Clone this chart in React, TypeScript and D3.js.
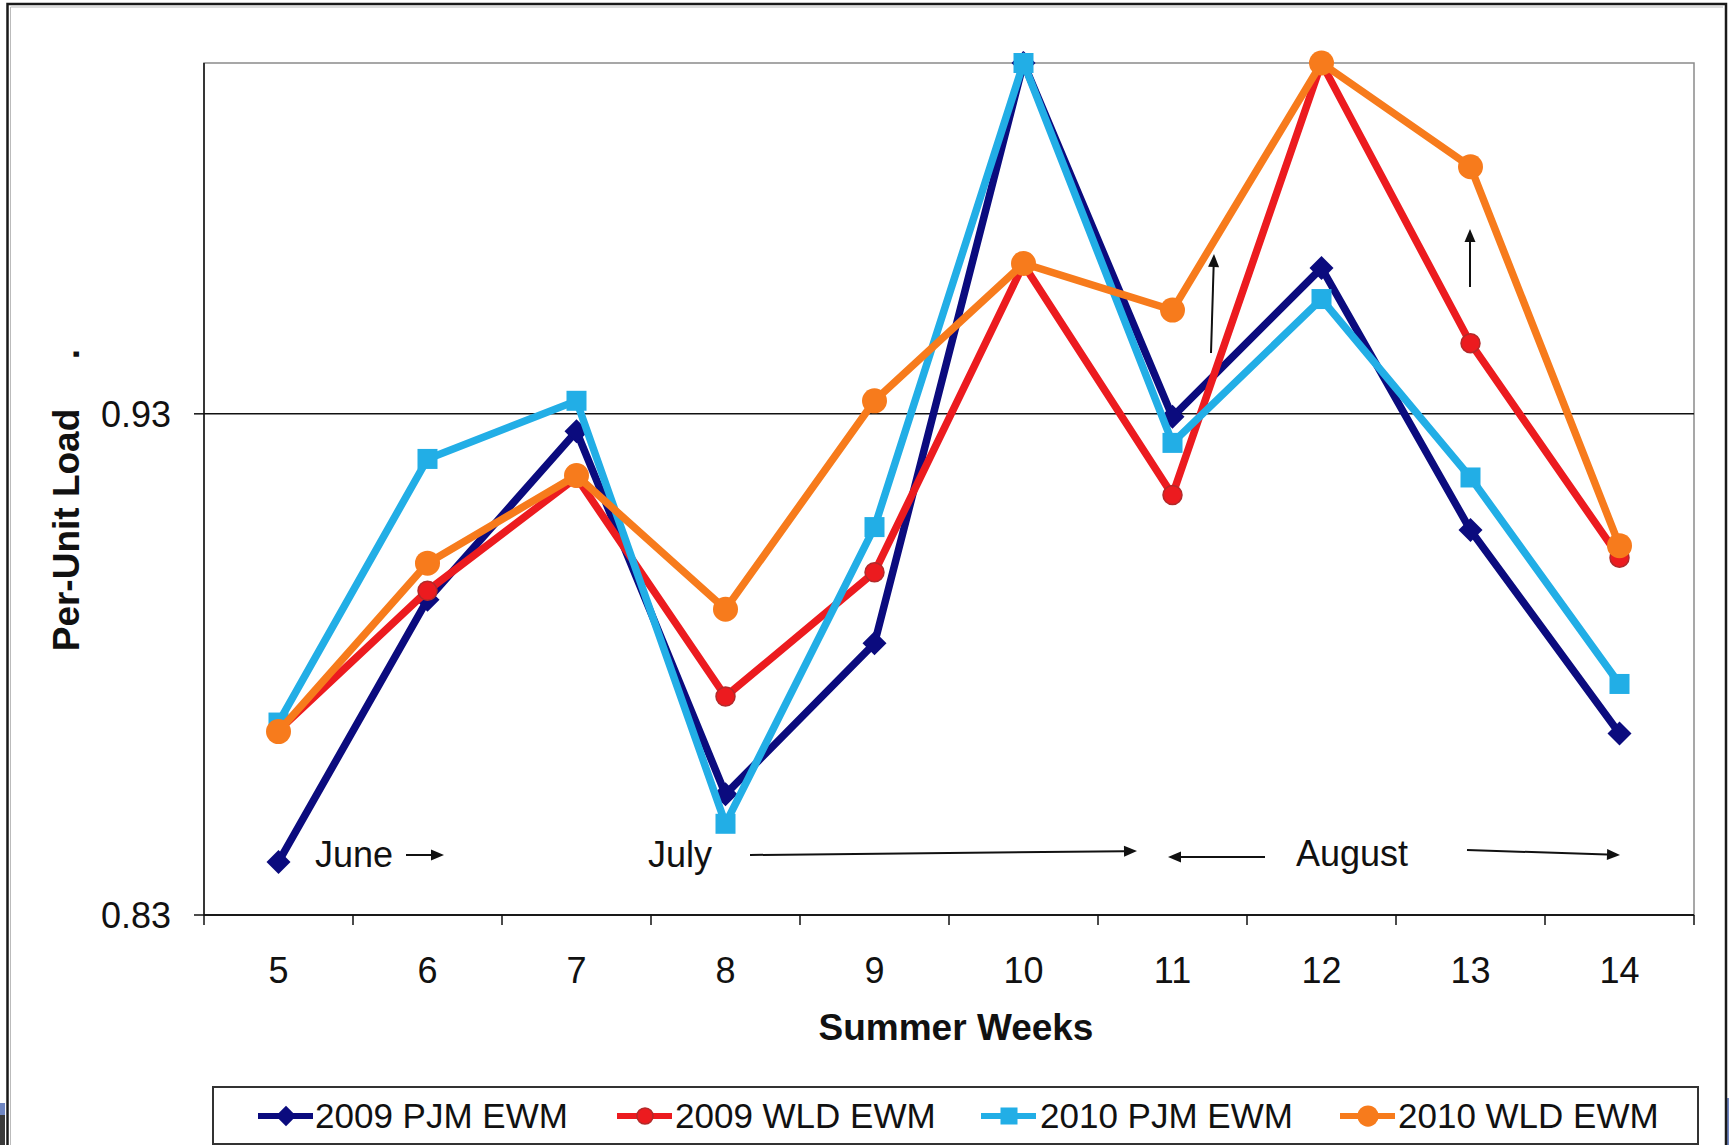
import React from "react";
import * as d3 from "d3";

const weeks = ["5", "6", "7", "8", "9", "10", "11", "12", "13", "14"];
const pjm2009 = [0.8406, 0.8929, 0.9265, 0.8541, 0.8842, 1.0, 0.9294, 0.9591, 0.9068, 0.8662];
const wld2009 = [0.8668, 0.8947, 0.9173, 0.8736, 0.8984, 0.9598, 0.9138, 1.0, 0.9441, 0.9013];
const pjm2010 = [0.8684, 0.921, 0.9326, 0.8482, 0.9074, 1.0, 0.9242, 0.9529, 0.9173, 0.8761];
const wld2010 = [0.8666, 0.9002, 0.9177, 0.891, 0.9326, 0.96, 0.9507, 1.0, 0.9793, 0.9037];
const yTicks = [0.83, 0.93];
const seriesNames = ["2009 PJM EWM", "2009 WLD EWM", "2010 PJM EWM", "2010 WLD EWM"];

const W = 1729;
const H = 1145;
const FONT = "'Liberation Sans', Arial, Helvetica, sans-serif";

const series = [
  { name: seriesNames[0], values: pjm2009, color: "#0b0b7e", marker: "diamond" },
  { name: seriesNames[1], values: wld2009, color: "#ec1b1f", marker: "smallCircle" },
  { name: seriesNames[2], values: pjm2010, color: "#22aee6", marker: "square" },
  { name: seriesNames[3], values: wld2010, color: "#f77b1c", marker: "circle" },
];

function Marker({ type, cx, cy, color, scale = 1 }: { type: string; cx: number; cy: number; color: string; scale?: number }) {
  if (type === "diamond") {
    const r = 12 * scale;
    return <path d={`M${cx},${cy - r}L${cx + r},${cy}L${cx},${cy + r}L${cx - r},${cy}Z`} fill={color} />;
  }
  if (type === "square") {
    const s = 20 * scale;
    return <rect x={cx - s / 2} y={cy - s / 2} width={s} height={s} fill={color} />;
  }
  if (type === "smallCircle") {
    return <circle cx={cx} cy={cy} r={9.5 * scale} fill={color} stroke="#b22a2a" strokeWidth={1.5} />;
  }
  return <circle cx={cx} cy={cy} r={12.5 * scale} fill={color} />;
}

function Arrow({ x1, y1, x2, y2 }: { x1: number; y1: number; x2: number; y2: number }) {
  const ang = Math.atan2(y2 - y1, x2 - x1);
  const len = 13;
  const hw = 5.5;
  const bx = x2 - len * Math.cos(ang);
  const by = y2 - len * Math.sin(ang);
  const px = -Math.sin(ang) * hw;
  const py = Math.cos(ang) * hw;
  return (
    <g>
      <line x1={x1} y1={y1} x2={bx} y2={by} stroke="#111" strokeWidth={2} />
      <path d={`M${x2},${y2}L${bx + px},${by + py}L${bx - px},${by - py}Z`} fill="#111" />
    </g>
  );
}

export default function App() {
  const left = 204;
  const right = 1694;
  const top = 63;
  const bottom = 915;

  const x = d3.scaleBand<string>().domain(weeks).range([left, right]);
  const cx = (w: string) => (x(w) as number) + x.bandwidth() / 2;
  const y = d3.scaleLinear().domain([0.83, 1.0]).range([bottom, top]);

  const line = d3
    .line<number>()
    .x((_, i) => cx(weeks[i]))
    .y((d) => y(d));

  const tickEdges = weeks.map((w) => x(w) as number).concat([right]);

  const legendItems = [
    { lx: 258, tx: 315 },
    { lx: 617, tx: 675 },
    { lx: 981, tx: 1040 },
    { lx: 1340, tx: 1398 },
  ];

  return (
    <svg
      width={W}
      height={H}
      viewBox={`0 0 ${W} ${H}`}
      style={{ position: "absolute", left: 0, top: 0, display: "block", background: "#fff" }}
      fontFamily={FONT}
    >
      <rect x={0} y={0} width={W} height={H} fill="#fff" />
      {/* slide artifacts */}
      <rect x={0} y={1103} width={5} height={12} fill="#6f86c2" />
      <rect x={0} y={1115} width={5} height={30} fill="#3a3a3a" />
      <rect x={1727} y={1098} width={2} height={47} fill="#6f86c2" />
      {/* outer frame */}
      <path d={`M7.5,${H}L7.5,4L1726,4L1726,${H}`} fill="none" stroke="#1a1a1a" strokeWidth={2.5} />
      <path d={`M10.5,${H}L10.5,7L1723,7`} fill="none" stroke="#bbb" strokeWidth={1} />

      {/* plot area border */}
      <rect x={left} y={top} width={right - left} height={bottom - top} fill="none" stroke="#8a8a8a" strokeWidth={1.5} />

      {/* gridlines */}
      {yTicks.map((t) => (
        <line key={`g${t}`} x1={left} x2={right} y1={y(t)} y2={y(t)} stroke="#111" strokeWidth={1.5} />
      ))}

      {/* axes */}
      <line x1={left} x2={left} y1={top} y2={bottom} stroke="#111" strokeWidth={1.5} />
      <line x1={left} x2={right} y1={bottom} y2={bottom} stroke="#111" strokeWidth={1.5} />
      {yTicks.map((t) => (
        <g key={`yt${t}`}>
          <line x1={left - 10} x2={left} y1={y(t)} y2={y(t)} stroke="#111" strokeWidth={1.5} />
          <text x={171} y={y(t) + 13} textAnchor="end" fontSize={36} fill="#111">
            {t.toFixed(2)}
          </text>
        </g>
      ))}
      {tickEdges.map((e, i) => (
        <line key={`xt${i}`} x1={e} x2={e} y1={bottom} y2={bottom + 10} stroke="#111" strokeWidth={1.5} />
      ))}
      {weeks.map((w) => (
        <text key={`xl${w}`} x={cx(w)} y={983} textAnchor="middle" fontSize={36} fill="#111">
          {w}
        </text>
      ))}

      {/* axis titles */}
      <text x={956} y={1040} textAnchor="middle" fontSize={37} fontWeight="bold" fill="#111">
        Summer Weeks
      </text>
      <text transform="translate(79,530) rotate(-90)" textAnchor="middle" fontSize={37} fontWeight="bold" fill="#111">
        Per-Unit Load
      </text>
      <text transform="translate(79,354) rotate(-90)" textAnchor="middle" fontSize={37} fontWeight="bold" fill="#111">
        .
      </text>

      {/* annotations */}
      <text x={315} y={867} fontSize={36} fill="#111">June</text>
      <Arrow x1={406} y1={855} x2={444} y2={855} />
      <text x={648} y={867} fontSize={36} fill="#111">July</text>
      <Arrow x1={750} y1={855} x2={1137} y2={851} />
      <Arrow x1={1265} y1={857} x2={1168} y2={857} />
      <text x={1296} y={866} fontSize={36} fill="#111">August</text>
      <Arrow x1={1467} y1={850} x2={1620} y2={855} />
      <Arrow x1={1211} y1={353} x2={1214} y2={254} />
      <Arrow x1={1470} y1={287} x2={1470} y2={229} />

      {/* series */}
      {series.map((s) => (
        <g key={s.name}>
          <path d={line(s.values) || ""} fill="none" stroke={s.color} strokeWidth={7.5} strokeLinejoin="miter" />
          {s.values.map((v, i) => (
            <Marker key={i} type={s.marker} cx={cx(weeks[i])} cy={y(v)} color={s.color} />
          ))}
        </g>
      ))}

      {/* legend */}
      <rect x={213} y={1087} width={1485} height={57} fill="#fff" stroke="#333" strokeWidth={2} />
      {series.map((s, i) => (
        <g key={`lg${i}`}>
          <line x1={legendItems[i].lx} x2={legendItems[i].lx + 55} y1={1116} y2={1116} stroke={s.color} strokeWidth={6} />
          <Marker type={s.marker} cx={legendItems[i].lx + 28} cy={1116} color={s.color} scale={0.85} />
          <text x={legendItems[i].tx} y={1128} fontSize={35} fill="#111">
            {s.name}
          </text>
        </g>
      ))}
    </svg>
  );
}
